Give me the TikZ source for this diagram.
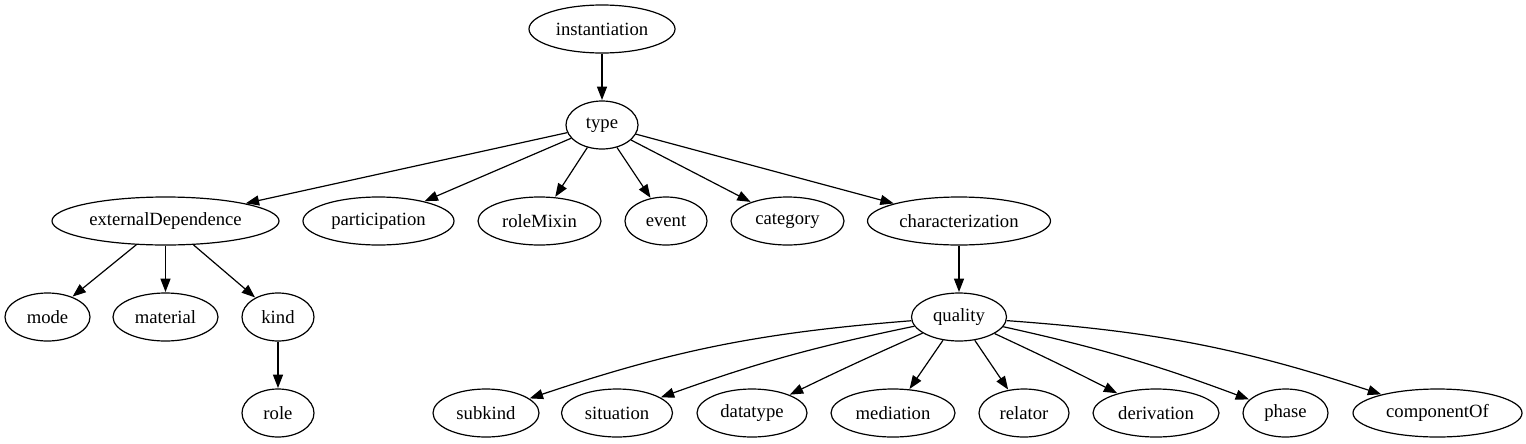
\documentclass[tikz,border=0pt]{standalone}
\usepackage{fontspec}
\setmainfont{Liberation Serif}
\usetikzlibrary{shapes.geometric,arrows.meta}
\tikzset{
  gv/.style={ellipse, draw, line width=0.9pt, inner sep=0pt, minimum height=36pt, font=\fontsize{14pt}{16pt}\selectfont},
  w/.style={minimum width=#1*0.75pt},
  e/.style={line width=0.9pt, -{Triangle[length=10pt,width=7.5pt]}, shorten >=0.3pt}
}
\begin{document}
\begin{tikzpicture}[x=0.75pt,y=-0.75pt]
\useasboundingbox (0,0) rectangle (1526,443);
\node[gv,w=146] (inst) at (602,29) {instantiation};
\node[gv,w=72] (type) at (602,125) {type};
\node[gv,w=227] (extdep) at (165.5,221) {externalDependence};
\node[gv,w=151] (part) at (378.5,221) {participation};
\node[gv,w=123] (rolemixin) at (539.5,221) {roleMixin};
\node[gv,w=82] (event) at (666,221) {event};
\node[gv,w=113] (category) at (787.5,221) {category};
\node[gv,w=183] (charz) at (959,221) {characterization};
\node[gv,w=85] (mode) at (47.5,317) {mode};
\node[gv,w=105] (material) at (165.5,317) {material};
\node[gv,w=72] (kind) at (278,317) {kind};
\node[gv,w=95] (quality) at (959,317) {quality};
\node[gv,w=72] (role) at (278,413) {role};
\node[gv,w=106] (subkind) at (486,413) {subkind};
\node[gv,w=111] (situation) at (617,413) {situation};
\node[gv,w=110] (datatype) at (752,413) {datatype};
\node[gv,w=124] (mediation) at (893,413) {mediation};
\node[gv,w=90] (relator) at (1024,413) {relator};
\node[gv,w=126] (derivation) at (1156,413) {derivation};
\node[gv,w=85] (phase) at (1285.5,413) {phase};
\node[gv,w=169] (componentOf) at (1437.5,413) {componentOf};
\draw[e] (inst) -- (type);
\draw[e] (type) -- (extdep);
\draw[e] (type) -- (part);
\draw[e] (type) -- (rolemixin);
\draw[e] (type) -- (event);
\draw[e] (type) -- (category);
\draw[e] (type) -- (charz);
\draw[e] (extdep) -- (mode);
\draw[e] (extdep) -- (material);
\draw[e] (extdep) -- (kind);
\draw[e] (kind) -- (role);
\draw[e] (charz) -- (quality);
\draw[e] (quality) to[bend right=7] (subkind);
\draw[e] (quality) to[bend right=4] (situation);
\draw[e] (quality) to[bend right=1] (datatype);
\draw[e] (quality) -- (mediation);
\draw[e] (quality) -- (relator);
\draw[e] (quality) to[bend left=1] (derivation);
\draw[e] (quality) to[bend left=4] (phase);
\draw[e] (quality) to[bend left=7] (componentOf);
\end{tikzpicture}
\end{document}
